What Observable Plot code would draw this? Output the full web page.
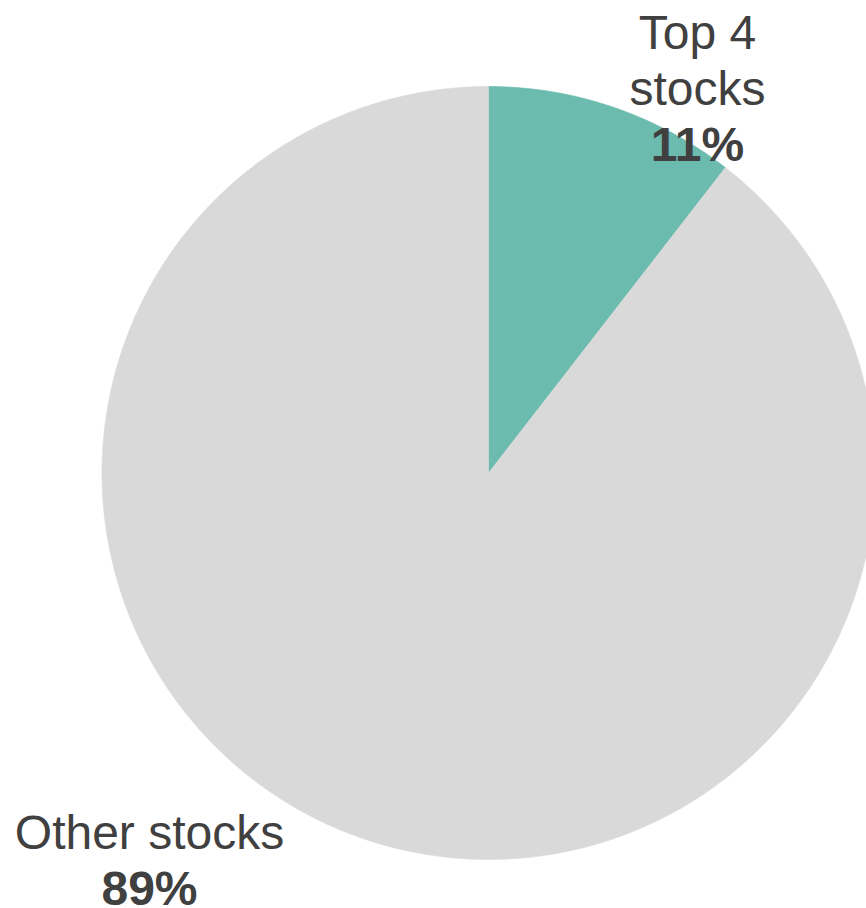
<!DOCTYPE html>
<html>
<head>
<meta charset="utf-8">
<script src="https://cdn.jsdelivr.net/npm/d3@7"></script>
<script src="https://cdn.jsdelivr.net/npm/@observablehq/plot@0.6"></script>
<style>
  html, body { margin: 0; padding: 0; background: #fff; }
  #chart svg { display: block; }
</style>
</head>
<body>
<div id="chart"></div>
<script>
// ---- Data ----
const categories = ["Top 4 stocks", "Other stocks"];
const shares = [10.5, 89.5];
const labelLines = [["Top 4", "stocks"], ["Other stocks"]];
const percentLabels = ["11%", "89%"];
const colors = ["#6BBBAE", "#D9D9D9"];

// ---- Layout ----
const W = 866, H = 908;
const cx = 488, cy = 472.5, R = 386.5;
const labelAnchors = [{px: 697, py: 48}, {px: 149, py: 848}];
const lineGap = 56;
const textColor = "#404040";
const font = "'Liberation Sans', Arial, Helvetica, sans-serif";

// ---- Build slice polygons (unit radius, y up, angle clockwise from 12 o'clock) ----
const arcs = d3.pie().sort(null).startAngle(0).endAngle(2 * Math.PI)(shares);
const slicePts = [];
arcs.forEach((a, i) => {
  const cat = categories[i];
  slicePts.push({cat, x: 0, y: 0});
  const n = Math.max(2, Math.ceil((a.endAngle - a.startAngle) / 0.005));
  for (let k = 0; k <= n; k++) {
    const t = a.startAngle + (a.endAngle - a.startAngle) * k / n;
    slicePts.push({cat, x: Math.sin(t), y: Math.cos(t)});
  }
  slicePts.push({cat, x: 0, y: 0});
});

// ---- Labels ----
const toX = px => (px - cx) / R;
const toY = py => (cy - py) / R;
const normalText = [], boldText = [];
categories.forEach((c, i) => {
  const a = labelAnchors[i];
  labelLines[i].forEach((t, j) => normalText.push({text: t, x: toX(a.px), y: toY(a.py + j * lineGap)}));
  boldText.push({text: percentLabels[i], x: toX(a.px), y: toY(a.py + labelLines[i].length * lineGap)});
});

const chart = Plot.plot({
  width: W,
  height: H,
  margin: 0,
  style: {background: "#fff", overflow: "visible"},
  x: {domain: [-cx / R, (W - cx) / R], axis: null},
  y: {domain: [-(H - cy) / R, cy / R], axis: null},
  color: {domain: categories, range: colors},
  marks: [
    Plot.line(slicePts, {x: "x", y: "y", z: "cat", fill: "cat", stroke: "cat", strokeWidth: 0.6, curve: "linear"}),
    Plot.text(normalText, {x: "x", y: "y", text: "text", lineAnchor: "bottom", textAnchor: "middle",
      fontSize: 48, fontFamily: font, fill: textColor}),
    Plot.text(boldText, {x: "x", y: "y", text: "text", lineAnchor: "bottom", textAnchor: "middle",
      fontSize: 48, fontWeight: "bold", fontFamily: font, fill: textColor})
  ]
});
document.getElementById("chart").appendChild(chart);
</script>
</body>
</html>
